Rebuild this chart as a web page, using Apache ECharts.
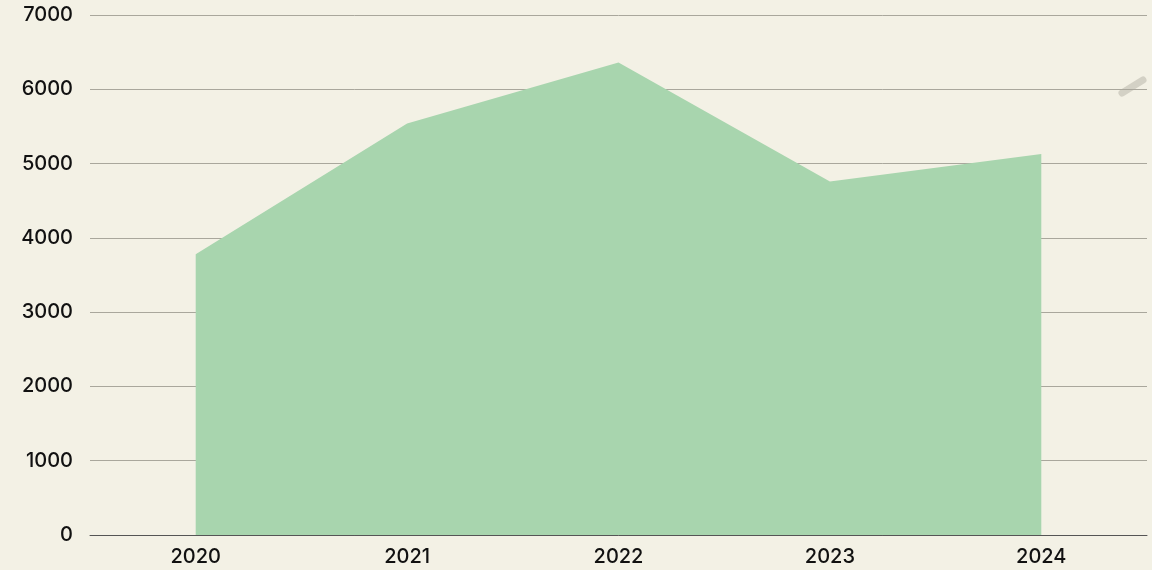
<!DOCTYPE html>
<html>
<head>
<meta charset="utf-8">
<script src="https://cdn.jsdelivr.net/npm/echarts@6.0.0/dist/echarts.min.js"></script>
<style>
  html, body { margin: 0; padding: 0; background: #f3f1e5; }
  #chart { width: 1152px; height: 570px; }
</style>
</head>
<body>
<div id="chart"></div>
<script>
'use strict';

// data
const years = ['2020', '2021', '2022', '2023', '2024'];
const values = [3780, 5540, 6360, 4760, 5130];

const chart = echarts.init(document.getElementById('chart'));

chart.setOption({
  backgroundColor: '#f3f1e5',
  animation: false,
  textStyle: { fontFamily: 'Inter, "DejaVu Sans", sans-serif' },
  grid: { left: 90, right: 5, top: 15, bottom: 35 },
  xAxis: {
    type: 'category',
    data: years,
    boundaryGap: true,
    axisLine: { lineStyle: { color: '#555', width: 1 } },
    axisTick: { show: false },
    axisLabel: { color: '#111', fontSize: 20, fontWeight: 500, margin: 12 }
  },
  yAxis: {
    type: 'value',
    min: 0,
    max: 7000,
    interval: 1000,
    axisLine: { show: false },
    axisTick: { show: false },
    axisLabel: { color: '#111', fontSize: 20, fontWeight: 500, margin: 17, formatter: v => String(v) },
    splitLine: { lineStyle: { color: '#a9a79c', width: 1 } }
  },
  series: [{
    type: 'line',
    data: values,
    symbol: 'none',
    lineStyle: { width: 0 },
    areaStyle: { color: '#a8d5ae', opacity: 1 }
  }],
  graphic: [{
    // faint stroke in the top right corner
    type: 'line',
    shape: { x1: 1122, y1: 93, x2: 1143, y2: 80 },
    style: { stroke: 'rgba(200,198,185,0.75)', lineWidth: 7, lineCap: 'round' }
  }]
});
</script>
</body>
</html>
